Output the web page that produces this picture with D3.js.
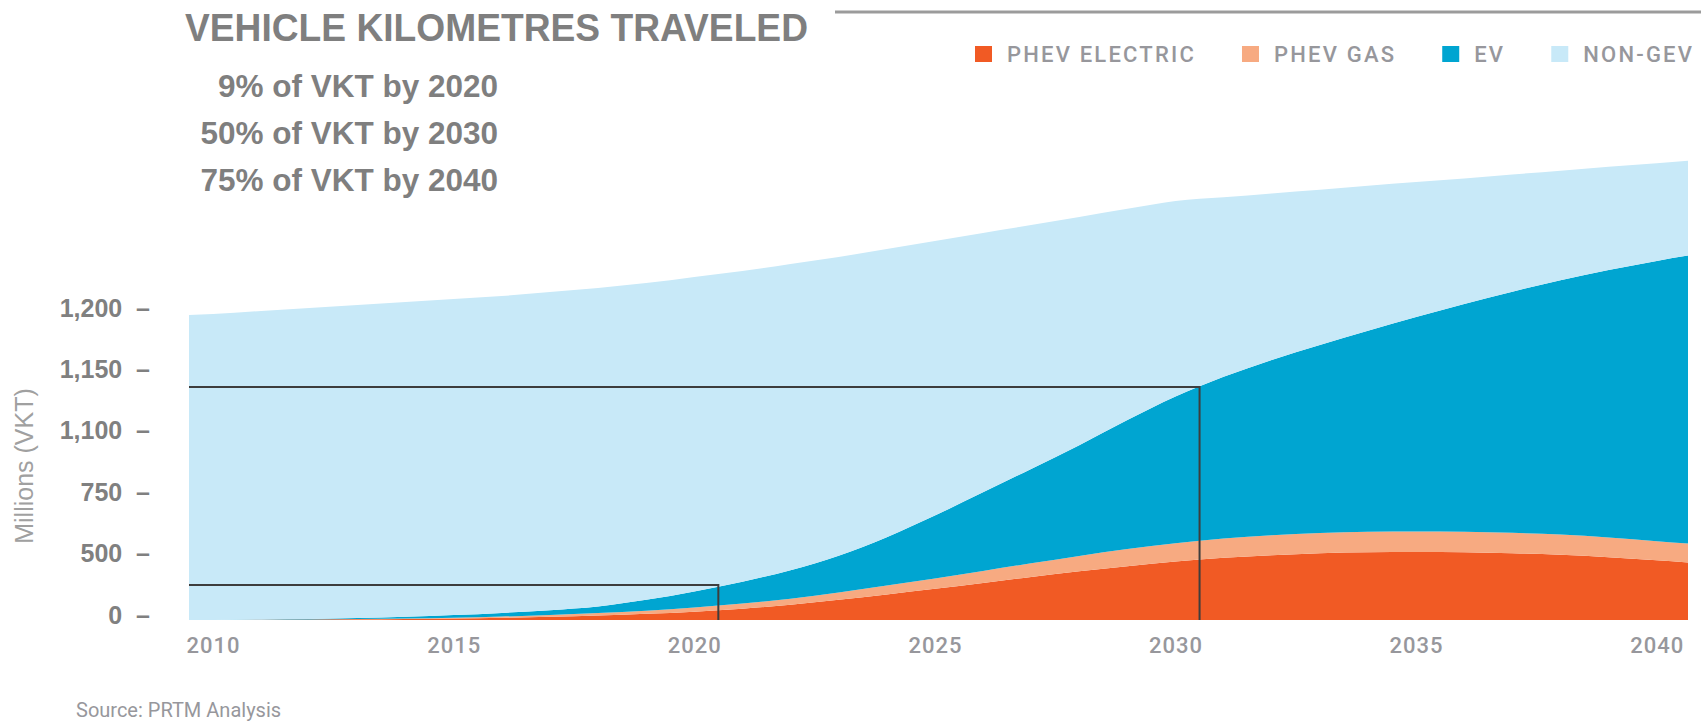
<!DOCTYPE html>
<html>
<head>
<meta charset="utf-8">
<script src="https://cdn.jsdelivr.net/npm/d3@7"></script>
<style>
  html, body { margin: 0; padding: 0; background: #ffffff; }
  svg { display: block; }
</style>
</head>
<body>
<svg id="chart" width="1701" height="725"></svg>
<script>
// Years sampled (one beyond each end so the areas reach the plot edges)
const years = [2009, 2010, 2011, 2012, 2013, 2014, 2015, 2016, 2017, 2018, 2019, 2020,
  2021, 2022, 2023, 2024, 2025, 2026, 2027, 2028, 2029, 2030,
  2031, 2032, 2033, 2034, 2035, 2036, 2037, 2038, 2039, 2040, 2041];

// Vehicle kilometres travelled by powertrain, millions
const phevElectric = [0, 0, 1, 2, 3, 4, 6, 9, 13, 18, 25, 34,
  46, 62, 82, 104, 127, 151, 175, 198, 219, 238,
  253, 264, 272, 276, 277, 276, 272, 266, 256, 243, 230];
const phevGas = [0, 0, 0, 0, 1, 2, 3, 5, 7, 10, 13, 17,
  21, 25, 30, 36, 42, 49, 56, 63, 70, 75,
  79, 81, 82, 83, 83, 83, 83, 82, 80, 78, 77];
const ev = [0, 0, 1, 2, 4, 7, 11, 15, 20, 27, 44, 65,
  89, 116, 150, 197, 256, 320, 384, 451, 525, 597,
  658, 714, 766, 819, 874, 928, 982, 1035, 1089, 1141, 1188];
const nonGev = [1238, 1246, 1256, 1266, 1275, 1282, 1287, 1290, 1296, 1297, 1290, 1281,
  1265, 1247, 1216, 1174, 1118, 1056, 993, 929, 860, 796,
  731, 678, 632, 590, 549, 511, 477, 446, 420, 398, 380];

const seriesKeys = ["phevElectric", "phevGas", "ev", "nonGev"];
const seriesNames = ["PHEV ELECTRIC", "PHEV GAS", "EV", "NON-GEV"];
const seriesColors = ["#f15a24", "#f7aa81", "#00a5d1", "#c8e9f8"];

// Axis ticks
const xTickYears = [2010, 2015, 2020, 2025, 2030, 2035, 2040];
const yTickValues = [0, 250, 500, 750, 1000, 1250];
const yTickLabels = ["0", "500", "750", "1,100", "1,150", "1,200"];

// Share markers: year and stacked electric total at that year
const markerYears = [2020.5, 2030.5];
const markerValues = [143, 949];

const titleText = "VEHICLE KILOMETRES TRAVELED";
const headlines = ["9% of VKT by 2020", "50% of VKT by 2030", "75% of VKT by 2040"];
const yAxisTitle = "Millions (VKT)";
const sourceText = "Source: PRTM Analysis";

const rows = years.map((yr, i) => ({
  year: yr,
  phevElectric: phevElectric[i],
  phevGas: phevGas[i],
  ev: ev[i],
  nonGev: nonGev[i]
}));

const svg = d3.select("#chart");
const plot = { left: 189, right: 1688, top: 120, bottom: 620 };

const x = d3.scaleLinear().domain([2009.5, 2040.65]).range([plot.left, plot.right]);
const y = d3.scaleLinear().domain([0, 1250]).range([plot.bottom, 313]);

const stacked = d3.stack().keys(seriesKeys)(rows);

svg.append("defs").append("clipPath").attr("id", "plotClip")
  .append("rect")
  .attr("x", plot.left).attr("y", 0)
  .attr("width", plot.right - plot.left).attr("height", plot.bottom);

const area = d3.area()
  .x(d => x(d.data.year))
  .y0(d => y(d[0]))
  .y1(d => y(d[1]))
  .curve(d3.curveMonotoneX);

svg.append("g").attr("clip-path", "url(#plotClip)")
  .selectAll("path")
  .data(stacked)
  .join("path")
  .attr("d", area)
  .attr("fill", (d, i) => seriesColors[i]);

// Marker brackets for the 2020 and 2030 shares
svg.append("g")
  .selectAll("path")
  .data(markerYears.map((yr, i) => ({ year: yr, value: markerValues[i] })))
  .join("path")
  .attr("d", d => `M${plot.left},${y(d.value)}H${x(d.year)}V${y(0)}`)
  .attr("fill", "none")
  .attr("stroke", "#3d3d3d")
  .attr("stroke-width", 2);

// X axis
const xAxis = svg.append("g")
  .attr("transform", `translate(0,${plot.bottom})`)
  .call(d3.axisBottom(x).tickValues(xTickYears).tickFormat(d3.format("d")).tickSize(0).tickPadding(17));
xAxis.select(".domain").remove();
xAxis.selectAll("text")
  .attr("fill", "#97979c")
  .style("font-family", "Roboto, 'Liberation Sans', sans-serif")
  .style("font-weight", 500)
  .style("font-size", "22px")
  .style("letter-spacing", "1px");

// Y axis
const yAxis = svg.append("g")
  .attr("transform", "translate(150,-5)")
  .call(d3.axisLeft(y).tickValues(yTickValues)
    .tickFormat((d, i) => yTickLabels[i] + "\u00a0\u00a0\u2013")
    .tickSize(0).tickPadding(0));
yAxis.select(".domain").remove();
yAxis.selectAll("text")
  .attr("fill", "#808080")
  .style("font-family", "'Liberation Sans', Arial, sans-serif")
  .style("font-weight", "bold")
  .style("font-size", "25px");

svg.append("text")
  .attr("transform", "translate(33,466) rotate(-90)")
  .attr("text-anchor", "middle")
  .attr("fill", "#a0a0a0")
  .style("font-family", "'Liberation Sans', Arial, sans-serif")
  .style("font-size", "25px")
  .text(yAxisTitle);

// Title and headline figures
svg.append("text")
  .attr("x", 185).attr("y", 41)
  .attr("textLength", 623)
  .attr("lengthAdjust", "spacingAndGlyphs")
  .attr("fill", "#7f7f7f")
  .style("font-family", "'Liberation Sans', Arial, sans-serif")
  .style("font-weight", "bold")
  .style("font-size", "39px")
  .text(titleText);

svg.append("line")
  .attr("x1", 835).attr("x2", 1701)
  .attr("y1", 12).attr("y2", 12)
  .attr("stroke", "#9b9b9b").attr("stroke-width", 3);

svg.append("g")
  .selectAll("text")
  .data(headlines)
  .join("text")
  .attr("x", 498)
  .attr("y", (d, i) => 97 + i * 47)
  .attr("text-anchor", "end")
  .attr("fill", "#7f7f7f")
  .style("font-family", "'Liberation Sans', Arial, sans-serif")
  .style("font-weight", "bold")
  .style("font-size", "31.5px")
  .text(d => d);

// Legend
const legend = svg.append("g").attr("transform", "translate(975,46)");
let lx = 0;
seriesNames.forEach((name, i) => {
  const item = legend.append("g").attr("transform", `translate(${lx},0)`);
  item.append("rect").attr("width", 17).attr("height", 16).attr("fill", seriesColors[i]);
  const t = item.append("text")
    .attr("x", 32).attr("y", 16)
    .attr("fill", "#97979c")
    .style("font-family", "Roboto, 'Liberation Sans', sans-serif")
    .style("font-weight", 500)
    .style("font-size", "22px")
    .style("letter-spacing", "2.2px")
    .text(name);
  lx += 32 + t.node().getComputedTextLength() + 46;
});

svg.append("text")
  .attr("x", 76).attr("y", 717)
  .attr("fill", "#97979c")
  .style("font-family", "Roboto, 'Liberation Sans', sans-serif")
  .style("font-size", "20px")
  .text(sourceText);
</script>
</body>
</html>
